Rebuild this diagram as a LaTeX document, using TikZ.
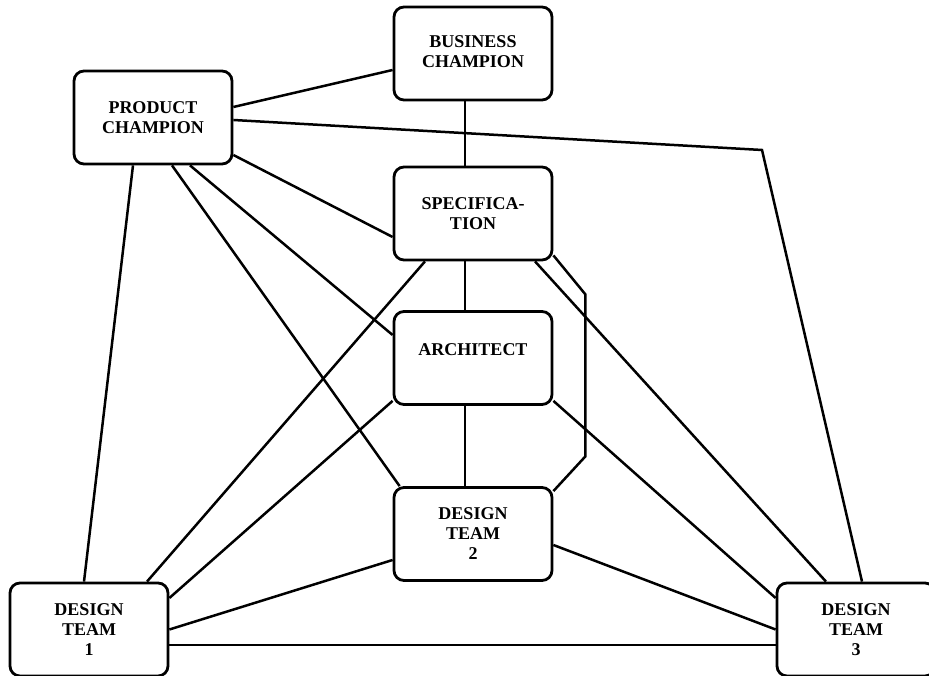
\documentclass[tikz,border=0pt]{standalone}
\usepackage{fontspec}
\setmainfont{Liberation Serif}
\usepackage{tikz}
\usetikzlibrary{positioning,backgrounds,calc}

\begin{document}
\begin{tikzpicture}[
    x=1pt, y=1pt,
    every node/.style={font=\fontsize{18}{20}\selectfont\bfseries,
                       draw=black, line width=2.8pt, rounded corners=10pt,
                       fill=white, align=center, inner sep=2pt,
                       minimum width=158pt, minimum height=93pt},
    link/.style={draw=black, line width=2.5pt}
  ]
  \useasboundingbox (0,0) rectangle (929,676);

  \node (biz)  at (473,622.5) {~\\[-12pt]BUSINESS\\CHAMPION};
  \node (prod) at (153,558.5) {PRODUCT\\CHAMPION};
  \node (spec) at (473,462.5) {SPECIFICA-\\TION};
  \node (arch) at (473,318)   {ARCHITECT\\[-4pt]~};
  \node (dt2)  at (473,142)   {DESIGN\\TEAM\\2};
  \node (dt1)  at (89,46.5)   {DESIGN\\TEAM\\1};
  \node (dt3)  at (856,46.5)  {DESIGN\\TEAM\\3};

  \coordinate (bend) at (762,526);

  \begin{scope}[on background layer]
    % product champion
    \draw[link] ([yshift=10.5pt]prod.east) -- ([yshift=-16.5pt]biz.west);
    \draw[link] ([yshift=-2.5pt]prod.east) -- (bend) -- ([xshift=6pt]dt3.north);
    \draw[link] ([yshift=-37.5pt]prod.east) -- ([yshift=-23.5pt]spec.west);
    \draw[link] ([xshift=37pt]prod.south) -- ([yshift=23pt]arch.west);
    \draw[link] ([xshift=19pt]prod.south) -- ([xshift=7pt]dt2.north west);
    \draw[link] ([xshift=-20pt]prod.south) -- ([xshift=-5pt]dt1.north);
    % spine
    \draw[link] ([xshift=-8pt]biz.south) -- ([xshift=-8pt]spec.north);
    \draw[link] ([xshift=-8pt]spec.south) -- ([xshift=-8pt]arch.north);
    \draw[link] ([xshift=-8pt]arch.south) -- ([xshift=-8pt]dt2.north);
    % specification
    \draw[link] ([xshift=-48pt]spec.south) -- ([xshift=58pt]dt1.north);
    \draw[link] ([xshift=62pt]spec.south) -- ([xshift=-30pt]dt3.north);
    \draw[link] ([yshift=6pt]spec.south east) -- ++(32,-39) -- ++(0,-162)
                -- ([yshift=-5pt]dt2.north east);
    % architect
    \draw[link] ([yshift=5pt]arch.south west) -- ([yshift=31.5pt]dt1.east);
    \draw[link] ([yshift=5pt]arch.south east) -- ([yshift=31.5pt]dt3.west);
    % design teams
    \draw[link] ([yshift=-26pt]dt2.west) -- (dt1.east);
    \draw[link] ([yshift=-11pt]dt2.east) -- (dt3.west);
    \draw[link] ([yshift=-15.5pt]dt1.east) -- ([yshift=-15.5pt]dt3.west);
  \end{scope}
\end{tikzpicture}
\end{document}
